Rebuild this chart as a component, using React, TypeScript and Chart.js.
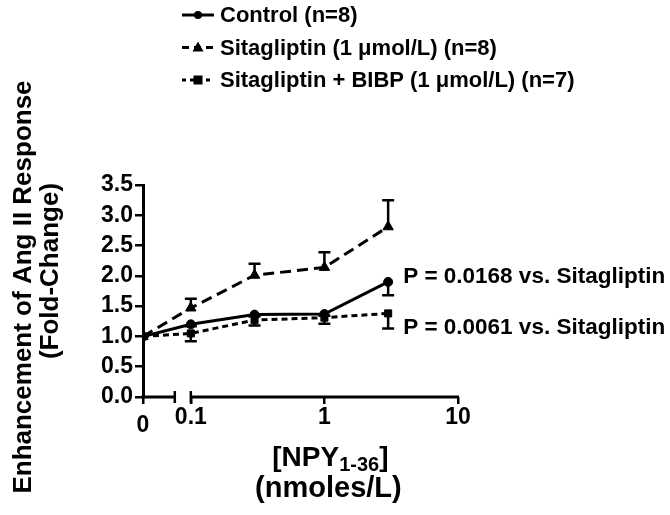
import { useEffect, useRef } from 'react';
import { Chart, registerables } from 'chart.js';
Chart.register(...registerables);

const FONT = "'Liberation Sans', Arial, Helvetica, sans-serif";

// Data (NPY 1-36 concentration, nmoles/L)
const concentrations = [0, 0.1, 0.3, 1, 3];
const controlMean = [1.0, 1.2, 1.36, 1.37, 1.9];
const controlErr = [0, 0.03, 0.03, 0.03, 0.22]; // drawn downward
const sitaMean = [1.0, 1.47, 2.01, 2.14, 2.81];
const sitaErr = [0, 0.15, 0.19, 0.25, 0.44]; // drawn upward
const bibpMean = [1.0, 1.05, 1.27, 1.31, 1.38];
const bibpErr = [0, 0.13, 0.09, 0.1, 0.25]; // drawn downward

const seriesLabels = [
  'Control (n=8)',
  'Sitagliptin (1 \u03BCmol/L) (n=8)',
  'Sitagliptin + BIBP (1 \u03BCmol/L) (n=7)',
];
const xTickValues = [0, 0.1, 1, 10];
const xTickLabels = ['0', '0.1', '1', '10'];
const yTickValues = [0, 0.5, 1, 1.5, 2, 2.5, 3, 3.5];
const yTitleLines = ['Enhancement of Ang II Response', '(Fold-Change)'];
const xTitleMain = '[NPY';
const xTitleSub = '1-36';
const xTitleClose = ']';
const xTitleUnits = '(nmoles/L)';
const pLabels = ['P = 0.0168 vs. Sitagliptin', 'P = 0.0061 vs. Sitagliptin'];

// broken log axis: zero placed left of the 0.1 decade
const ZERO_AT = -1.358;
const BREAK_END = -1.12;
const toAxis = (c: number) => (c === 0 ? ZERO_AT : Math.log10(c));

const dashes = [[], [11, 6], [6, 4]];
const pointStyles = ['circle', 'triangle', 'rect'];
const pointRadii = [4.5, 6, 5];
const errDir = [-1, 1, -1];
const means = [controlMean, sitaMean, bibpMean];
const errs = [controlErr, sitaErr, bibpErr];

export default function App() {
  const ref = useRef<HTMLCanvasElement | null>(null);
  useEffect(() => {
    if (!ref.current) return;
    Chart.defaults.font.family = FONT;

    const extras = {
      id: 'extras',
      beforeDatasetsDraw(chart: any) {
        const { ctx, scales } = chart;
        const xs = scales.x;
        const ys = scales.y;
        const y0 = ys.getPixelForValue(0);
        ctx.save();
        ctx.strokeStyle = '#000';
        ctx.lineWidth = 3;
        ctx.lineCap = 'butt';
        const xa = xs.getPixelForValue(ZERO_AT);
        const xb = xs.getPixelForValue(BREAK_END);
        const xc = xs.getPixelForValue(-1);
        const xd = xs.getPixelForValue(1);
        ctx.beginPath();
        ctx.moveTo(xa - 1.5, y0);
        ctx.lineTo(xb, y0);
        ctx.moveTo(xc, y0);
        ctx.lineTo(xd + 1, y0);
        ctx.stroke();
        ctx.lineWidth = 2.5;
        ctx.beginPath();
        ctx.moveTo(xb, y0 - 6);
        ctx.lineTo(xb, y0 + 6);
        ctx.moveTo(xc, y0 - 6);
        ctx.lineTo(xc, y0 + 6);
        ctx.stroke();

        // error bars
        ctx.lineWidth = 2.5;
        means.forEach((m, si) => {
          m.forEach((v, i) => {
            const e = errs[si][i];
            if (!e) return;
            const px = xs.getPixelForValue(toAxis(concentrations[i]));
            const p1 = ys.getPixelForValue(v);
            const p2 = ys.getPixelForValue(v + errDir[si] * e);
            ctx.beginPath();
            ctx.moveTo(px, p1);
            ctx.lineTo(px, p2);
            ctx.moveTo(px - 6, p2);
            ctx.lineTo(px + 6, p2);
            ctx.stroke();
          });
        });
        ctx.restore();
      },
      afterDraw(chart: any) {
        const { ctx, scales } = chart;
        const xs = scales.x;
        const ys = scales.y;
        ctx.save();
        ctx.fillStyle = '#000';
        ctx.strokeStyle = '#000';

        // legend
        const rows = [15, 47.5, 80];
        rows.forEach((ry, i) => {
          ctx.lineWidth = 3;
          ctx.setLineDash(i === 0 ? [] : i === 1 ? [7, 5] : [4, 4]);
          ctx.beginPath();
          ctx.moveTo(182, ry);
          ctx.lineTo(214, ry);
          ctx.stroke();
          ctx.setLineDash([]);
          ctx.beginPath();
          if (i === 0) {
            ctx.arc(198, ry, 4, 0, Math.PI * 2);
          } else if (i === 1) {
            ctx.moveTo(198, ry - 6);
            ctx.lineTo(203.5, ry + 4);
            ctx.lineTo(192.5, ry + 4);
            ctx.closePath();
          } else {
            ctx.rect(193.5, ry - 4.5, 9, 9);
          }
          ctx.fill();
          ctx.font = `bold 22px ${FONT}`;
          ctx.textAlign = 'left';
          ctx.textBaseline = 'middle';
          ctx.fillText(seriesLabels[i], 220, ry + 1);
        });

        // P-value annotations
        ctx.font = `bold 22.5px ${FONT}`;
        ctx.textAlign = 'left';
        ctx.textBaseline = 'middle';
        const lastX = xs.getPixelForValue(toAxis(concentrations[concentrations.length - 1])) + 15;
        ctx.fillText(pLabels[0], lastX, ys.getPixelForValue(controlMean[4]) - 5);
        ctx.fillText(pLabels[1], lastX, ys.getPixelForValue(bibpMean[4]) + 14);

        // y title
        ctx.font = `bold 26px ${FONT}`;
        ctx.textAlign = 'center';
        ctx.textBaseline = 'middle';
        ctx.save();
        ctx.translate(24, 287);
        ctx.rotate(-Math.PI / 2);
        ctx.fillText(yTitleLines[0], 0, 0);
        ctx.restore();
        ctx.save();
        ctx.translate(51, 271);
        ctx.rotate(-Math.PI / 2);
        ctx.fillText(yTitleLines[1], 0, 0);
        ctx.restore();

        // x title
        ctx.textBaseline = 'alphabetic';
        ctx.textAlign = 'left';
        const mainFont = `bold 28px ${FONT}`;
        const subFont = `bold 20px ${FONT}`;
        ctx.font = mainFont;
        const w1 = ctx.measureText(xTitleMain).width;
        const w3 = ctx.measureText(xTitleClose).width;
        ctx.font = subFont;
        const w2 = ctx.measureText(xTitleSub).width;
        const cx = (xs.getPixelForValue(-1) + xs.getPixelForValue(1)) / 2 + 6;
        let sx = cx - (w1 + w2 + w3) / 2;
        ctx.font = mainFont;
        ctx.fillText(xTitleMain, sx, 466);
        sx += w1;
        ctx.font = subFont;
        ctx.fillText(xTitleSub, sx, 471);
        sx += w2;
        ctx.font = mainFont;
        ctx.fillText(xTitleClose, sx, 466);
        ctx.font = `bold 29px ${FONT}`;
        ctx.textAlign = 'center';
        ctx.fillText(xTitleUnits, cx - 2, 497);
        ctx.restore();
      },
    };

    const datasets = means.map((m, si) => ({
      label: seriesLabels[si],
      data: m.map((v, i) => ({ x: toAxis(concentrations[i]), y: v })),
      borderColor: '#000',
      backgroundColor: '#000',
      borderWidth: 3,
      borderDash: dashes[si],
      pointStyle: pointStyles[si],
      pointRadius: pointRadii[si],
      pointBorderWidth: 1,
      pointBackgroundColor: '#000',
      pointBorderColor: '#000',
      showLine: true,
      fill: false,
      tension: 0,
    }));

    const chart = new Chart(ref.current, {
      type: 'line',
      data: { datasets },
      plugins: [extras],
      options: {
        animation: false,
        responsive: false,
        maintainAspectRatio: false,
        layout: { padding: { left: 0, top: 185, right: 212, bottom: 0 } },
        plugins: { legend: { display: false }, tooltip: { enabled: false } },
        scales: {
          x: {
            type: 'linear',
            min: ZERO_AT,
            max: 1,
            afterBuildTicks: (s: any) => {
              s.ticks = xTickValues.map((v) => ({ value: toAxis(v) }));
            },
            afterFit: (s: any) => {
              s.height = 118;
            },
            ticks: {
              autoSkip: false,
              maxRotation: 0,
              minRotation: 0,
              color: '#000',
              padding: 0,
              callback: (_v: any, i: number) => xTickLabels[i],
              font: (c: any) => ({
                family: FONT,
                size: 23,
                weight: 'bold',
                lineHeight: c.index === 0 ? 1.85 : 1.15,
              }),
            },
            grid: {
              drawOnChartArea: false,
              drawTicks: true,
              tickLength: 7,
              lineWidth: 2.5,
              color: '#000',
            },
            border: { display: false },
          },
          y: {
            type: 'linear',
            min: 0,
            max: 3.5,
            afterBuildTicks: (s: any) => {
              s.ticks = yTickValues.map((v) => ({ value: v }));
            },
            afterFit: (s: any) => {
              s.width = 143;
            },
            ticks: {
              autoSkip: false,
              color: '#000',
              padding: 2,
              font: { family: FONT, size: 23, weight: 'bold', lineHeight: 1 },
              callback: (v: any) => Number(v).toFixed(1),
            },
            grid: {
              drawOnChartArea: false,
              drawTicks: true,
              tickLength: 8,
              lineWidth: 2.5,
              color: '#000',
            },
            border: { display: true, width: 3, color: '#000' },
          },
        },
      } as any,
    });
    return () => chart.destroy();
  }, []);

  return (
    <div style={{ position: 'fixed', left: 0, top: 0, width: 670, height: 515, background: '#fff' }}>
      <canvas ref={ref} width={670} height={515} style={{ display: 'block', width: 670, height: 515 }} />
    </div>
  );
}
